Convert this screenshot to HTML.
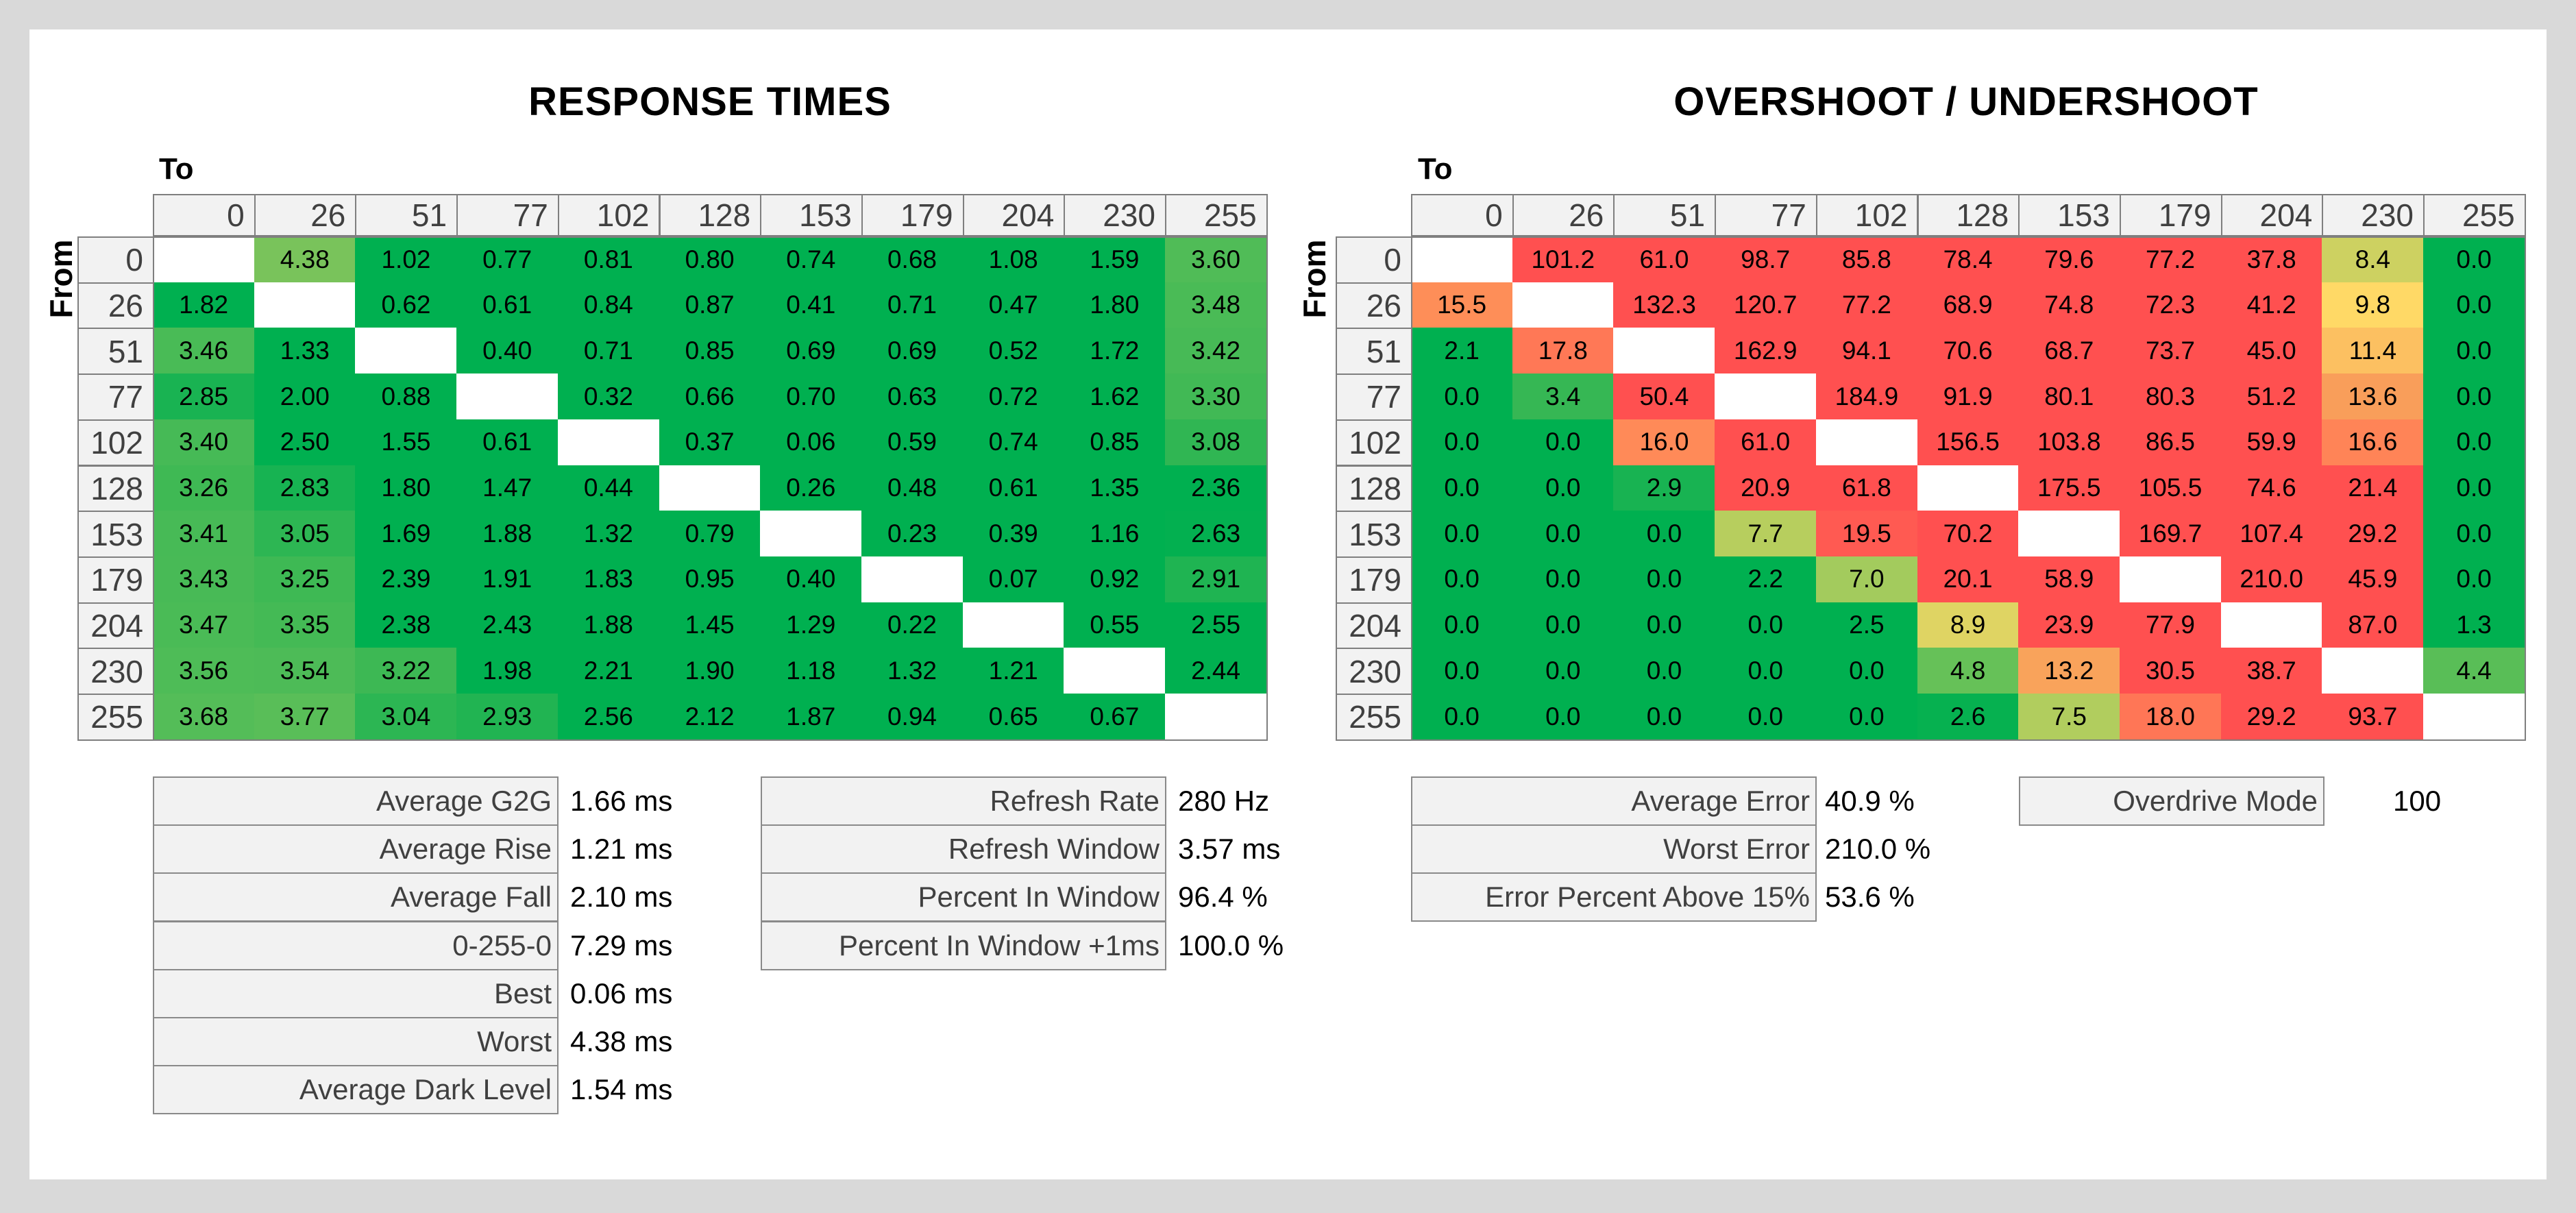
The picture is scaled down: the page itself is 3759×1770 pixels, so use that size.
<!DOCTYPE html>
<html><head><meta charset="utf-8">
<style>
body{margin:0;width:3759px;height:1770px;background:#d9d9d9;font-family:"Liberation Sans",sans-serif;overflow:hidden;position:relative}
#panel{position:absolute;left:43px;top:43px;width:3673px;height:1678px;background:#fff}
.a{position:absolute;box-sizing:border-box}
.title{font-weight:bold;font-size:58px;color:#000;text-align:center;letter-spacing:1px}
.hdr{background:#f2f2f2;border:2px solid #7f7f7f;color:#404040;font-size:46px;text-align:right;padding-right:14px;display:flex;align-items:center;justify-content:flex-end}
.cell{font-size:37px;color:#000;display:flex;align-items:center;justify-content:center}
.lab{background:#f2f2f2;border:2px solid #8a8a8a;color:#404040;font-size:42px;display:flex;align-items:center;justify-content:flex-end;padding-right:8px}
.val{font-size:42px;color:#000;display:flex;align-items:center}
.from{font-size:46px;font-weight:bold;width:160px;height:56px;text-align:center;line-height:56px;transform:rotate(-90deg)}
</style></head><body>
<div id="panel"></div>
<div class="a title" style="left:636px;top:115px;width:800px">RESPONSE TIMES</div>
<div class="a title" style="left:2369px;top:115px;width:1000px">OVERSHOOT / UNDERSHOOT</div>
<div class="a" style="left:232px;top:222px;font-size:44px;font-weight:bold">To</div>
<div class="a" style="left:2069px;top:222px;font-size:44px;font-weight:bold">To</div>
<div class="a from" style="left:9px;top:379px">From</div>
<div class="a from" style="left:1838px;top:379px">From</div>
<div id="root"></div>
<script>
const levels=["0","26","51","77","102","128","153","179","204","230","255"];
const rtValues=[
[null,4.38,1.02,0.77,0.81,0.80,0.74,0.68,1.08,1.59,3.60],
[1.82,null,0.62,0.61,0.84,0.87,0.41,0.71,0.47,1.80,3.48],
[3.46,1.33,null,0.40,0.71,0.85,0.69,0.69,0.52,1.72,3.42],
[2.85,2.00,0.88,null,0.32,0.66,0.70,0.63,0.72,1.62,3.30],
[3.40,2.50,1.55,0.61,null,0.37,0.06,0.59,0.74,0.85,3.08],
[3.26,2.83,1.80,1.47,0.44,null,0.26,0.48,0.61,1.35,2.36],
[3.41,3.05,1.69,1.88,1.32,0.79,null,0.23,0.39,1.16,2.63],
[3.43,3.25,2.39,1.91,1.83,0.95,0.40,null,0.07,0.92,2.91],
[3.47,3.35,2.38,2.43,1.88,1.45,1.29,0.22,null,0.55,2.55],
[3.56,3.54,3.22,1.98,2.21,1.90,1.18,1.32,1.21,null,2.44],
[3.68,3.77,3.04,2.93,2.56,2.12,1.87,0.94,0.65,0.67,null]];
const osValues=[
[null,101.2,61.0,98.7,85.8,78.4,79.6,77.2,37.8,8.4,0.0],
[15.5,null,132.3,120.7,77.2,68.9,74.8,72.3,41.2,9.8,0.0],
[2.1,17.8,null,162.9,94.1,70.6,68.7,73.7,45.0,11.4,0.0],
[0.0,3.4,50.4,null,184.9,91.9,80.1,80.3,51.2,13.6,0.0],
[0.0,0.0,16.0,61.0,null,156.5,103.8,86.5,59.9,16.6,0.0],
[0.0,0.0,2.9,20.9,61.8,null,175.5,105.5,74.6,21.4,0.0],
[0.0,0.0,0.0,7.7,19.5,70.2,null,169.7,107.4,29.2,0.0],
[0.0,0.0,0.0,2.2,7.0,20.1,58.9,null,210.0,45.9,0.0],
[0.0,0.0,0.0,0.0,2.5,8.9,23.9,77.9,null,87.0,1.3],
[0.0,0.0,0.0,0.0,0.0,4.8,13.2,30.5,38.7,null,4.4],
[0.0,0.0,0.0,0.0,0.0,2.6,7.5,18.0,29.2,93.7,null]];
const rtStatLabels=["Average G2G","Average Rise","Average Fall","0-255-0","Best","Worst","Average Dark Level"];
const rtStatValues=["1.66 ms","1.21 ms","2.10 ms","7.29 ms","0.06 ms","4.38 ms","1.54 ms"];
const refLabels=["Refresh Rate","Refresh Window","Percent In Window","Percent In Window +1ms"];
const refValues=["280 Hz","3.57 ms","96.4 %","100.0 %"];
const errLabels=["Average Error","Worst Error","Error Percent Above 15%"];
const errValues=["40.9 %","210.0 %","53.6 %"];
const odLabels=["Overdrive Mode"];
const odValues=["100"];

const root=document.getElementById('root');
function hex(c){return [parseInt(c.slice(1,3),16),parseInt(c.slice(3,5),16),parseInt(c.slice(5,7),16)]}
function scale(stops,v){
  if(v<=stops[0][0])return stops[0][1];
  for(let i=1;i<stops.length;i++){if(v<=stops[i][0]){const a=stops[i-1],b=stops[i];const t=(v-a[0])/(b[0]-a[0]);const c1=hex(a[1]),c2=hex(b[1]);return 'rgb('+c1.map((x,k)=>Math.round(x+(c2[k]-x)*t)).join(',')+')';}}
  return stops[stops.length-1][1];
}
const rtStops=[[2.6,"#00b050"],[3.2,"#3cb854"],[3.7,"#55bd58"],[4.4,"#7ac35b"]];
const osStops=[[2.5,"#00b050"],[3.5,"#3cb854"],[5,"#6cc259"],[8,"#bfcf5f"],[9.8,"#ffd966"],[13.4,"#f9a05a"],[16,"#ff8a58"],[18,"#ff7656"],[20,"#ff5050"]];
function mk(cls,name,x,y,w,h,txt,bg){
  const d=document.createElement('div');d.className='a '+cls;
  
  
  d.style.left=x+'px';d.style.top=y+'px';d.style.width=w+'px';d.style.height=h+'px';
  if(bg)d.style.background=bg;d.textContent=txt;root.appendChild(d);return d;
}
const CW=147.7,RH=66.7,HY=283,HH=62;
function table(prefix,x0,vals,stops,fmt){
  const lw=110;
  levels.forEach((l,j)=>mk('hdr',prefix+'-col-header-'+l,x0+lw+j*CW,HY,CW+2,HH,l));
  levels.forEach((l,i)=>mk('hdr',prefix+'-row-header-'+l,x0,HY+HH+i*RH,lw+2,RH+2,l));
  vals.forEach((row,i)=>row.forEach((v,j)=>{
    const bg=v===null?'#fff':scale(stops,v);
    mk('cell',prefix+'-cell-'+levels[i]+'-'+levels[j],x0+lw+j*CW,HY+HH+i*RH,CW+0.5,RH+0.5,v===null?'':fmt(v),bg);
  }));
  const b=document.createElement('div');b.className='a';
  
  
  b.style.cssText='left:'+(x0+lw)+'px;top:'+(HY+HH)+'px;width:'+(11*CW+2)+'px;height:'+(11*RH+2)+'px;border:2px solid #7f7f7f';
  root.appendChild(b);
}
table('rt',113,rtValues,rtStops,v=>v.toFixed(2));
table('os',1949,osValues,osStops,v=>v.toFixed(1));
function stats(prefix,x,w,vx,labels,values){
  labels.forEach((l,i)=>{
    mk('lab',prefix+'-label-'+i,x,1133+i*70.2,w,72,l);
    mk('val',prefix+'-value-'+i,vx,1133+i*70.2,400,72,values[i]);
  });
}
stats('rt-stat',223,592,832,rtStatLabels,rtStatValues);
stats('refresh-stat',1110,592,1719,refLabels,refValues);
stats('error-stat',2059,592,2663,errLabels,errValues);
stats('overdrive-stat',2946,446,3492,odLabels,odValues);
</script>
</body></html>
